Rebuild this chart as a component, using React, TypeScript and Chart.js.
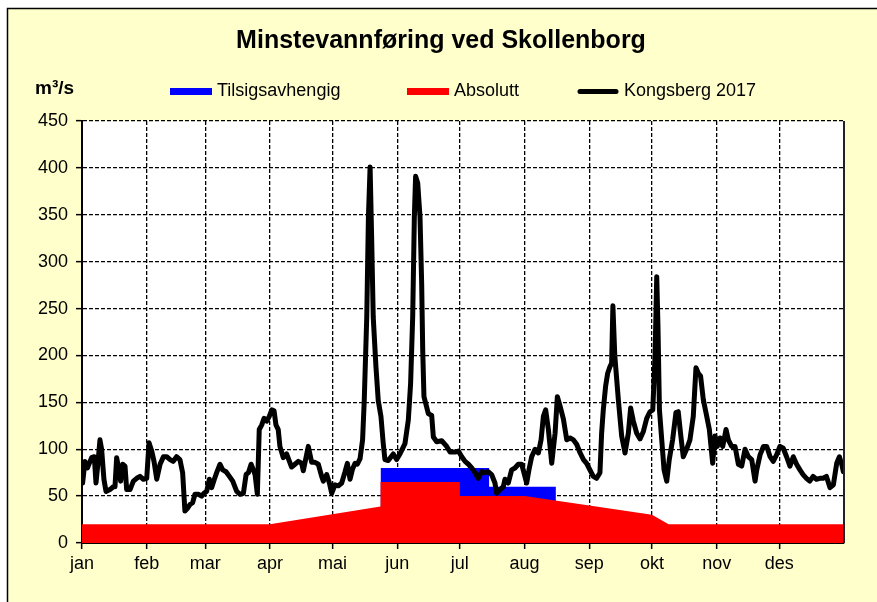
import React, { useEffect, useRef } from "react";
import { Chart, registerables } from "chart.js";

Chart.register(...registerables);

// ---- Data ----
const monthLabels = ["jan", "feb", "mar", "apr", "mai", "jun", "jul", "aug", "sep", "okt", "nov", "des"];
const monthStartDays = [0, 31, 59, 90, 120, 151, 181, 212, 243, 273, 304, 334];
const yearDays = 365;
const yMax = 450;
const yStep = 50;

const chartTitle = "Minstevannføring ved Skollenborg";
const unitLabel = "m³/s";

// Tilsigsavhengig (blue)
const tilsigDays = [143, 195, 195, 227];
const tilsigFlow = [80, 80, 60, 60];

// Absolutt (red)
const absoluttDays = [0, 90, 143, 143, 181, 181, 212, 243, 273, 281, 365];
const absoluttFlow = [20, 20, 39, 65, 65, 50, 50, 40, 30, 20, 20];

// Kongsberg 2017 (black), day of year / m3/s
const kongsbergDays = [
  0.3, 1.4, 2.6, 4.6, 5.9, 6.7, 7.5, 8.6, 9.4, 10.5, 11.5, 13.4, 15, 15.8, 16.6, 17.7, 18.5, 19.5, 20.6, 21.4,
  23, 24.6, 26.2, 27.8, 29.4, 31, 32.1, 33.4, 34.5, 35.8, 37.4, 39, 40.6, 42.2, 43.7, 45.3, 46.9, 48.2, 49.3, 50.5,
  51.7, 53, 54.1, 55.7, 57.3, 58.4, 59.7, 61, 62.1, 63.4, 64.5, 66.1, 67.4, 69, 70.6, 72.2, 74.1, 75.7, 77.3, 78.6,
  79.7, 81, 82.1, 82.9, 84, 84.9, 86.1, 87.2, 88.5, 89.7, 90.9, 92, 92.9, 94, 94.8, 96.4, 98, 100.4, 102, 103.6,
  105.2, 106, 108.4, 110, 111.6, 113.2, 114.8, 115.6, 117.2, 118.5, 119.6, 121.2, 122.8, 124.4, 126, 127.1, 128.4, 129.6, 130.8, 131.9,
  133.2, 134.4, 135.2, 136.4, 137.2, 138, 138.7, 139.5, 140.8, 141.9, 143.2, 144.3, 145.1, 146.7, 149.1, 150.7, 152.3, 154.7, 156.3, 157.4,
  158.4, 159.2, 159.8, 160.8, 161.9, 162.7, 163.2, 163.8, 165.9, 167.5, 168.3, 169.9, 172.3, 174.7, 176.3, 178.7, 180.3, 181.9, 183.5, 185.1,
  186.7, 188.2, 189.8, 191.4, 193, 194.6, 196.2, 197.8, 198.6, 200.2, 201.8, 202.6, 204.2, 205.8, 207.4, 209, 210.6, 213, 214.1, 215.4,
  217, 218.6, 219.9, 221, 222.1, 223.4, 225, 226.6, 227.7, 229, 230.6, 232.2, 233.8, 235.4, 237, 238.6, 240.2, 241.7, 243.3, 244.9,
  246.5, 248.1, 248.9, 249.7, 250.8, 251.8, 252.9, 253.7, 254.3, 255.2, 256.9, 258.5, 260.1, 261.7, 262.8, 264.1, 265.7, 267.3, 268.9, 270.5,
  272.1, 273.4, 274.5, 275.3, 275.9, 276.6, 277.7, 278.8, 280.1, 281.3, 282.9, 284.5, 285.6, 286.7, 288, 289.6, 291.2, 292.8, 294.1, 295.2,
  296.3, 297.6, 298.9, 300.5, 302.1, 303.2, 304.3, 305.6, 306.9, 308.5, 309.6, 311.2, 312.8, 314.4, 316, 317.6, 319.2, 320.8, 322.4, 323.2,
  324.8, 326.4, 328, 329.6, 331.1, 332.7, 334.3, 335.9, 337.5, 339.1, 340.7, 342.3, 343.9, 345.4, 347, 348.6, 350.2, 351.8, 353.4, 355,
  356.6, 358.3, 359.9, 361.5, 362.8, 363.9, 364.7,
];
const kongsbergFlow = [
  64, 87, 80, 91, 92, 64, 82, 110, 100, 68, 55, 57, 60, 60, 91, 78, 66, 84, 82, 57,
  57, 66, 69, 71, 68, 69, 107, 98, 87, 68, 84, 92, 92, 89, 87, 92, 89, 75, 34, 37,
  41, 43, 52, 52, 50, 53, 55, 68, 59, 68, 75, 84, 78, 76, 71, 66, 55, 52, 53, 73,
  75, 84, 78, 73, 52, 121, 126, 133, 130, 135, 142, 141, 126, 121, 103, 91, 95, 81, 84, 87,
  85, 77, 103, 86, 86, 84, 71, 66, 73, 64, 53, 62, 61, 64, 76, 85, 68, 79, 85, 84,
  90, 110, 152, 241, 348, 401, 330, 241, 188, 152, 135, 106, 89, 88, 95, 89, 95, 106, 131, 170,
  241, 348, 391, 384, 348, 277, 206, 156, 138, 136, 113, 108, 109, 103, 97, 97, 98, 92, 87, 84,
  80, 75, 69, 76, 75, 76, 73, 64, 53, 57, 60, 68, 64, 78, 80, 84, 84, 64, 78, 92,
  100, 96, 110, 135, 142, 121, 85, 117, 156, 146, 132, 110, 112, 110, 105, 96, 89, 85, 78, 71,
  69, 75, 117, 142, 167, 181, 188, 192, 253, 200, 153, 114, 96, 117, 144, 130, 117, 111, 119, 133,
  140, 142, 200, 284, 230, 142, 110, 78, 66, 89, 110, 139, 140, 117, 92, 100, 110, 135, 187, 181,
  178, 153, 139, 121, 85, 114, 103, 112, 103, 121, 110, 103, 103, 84, 82, 100, 92, 89, 66, 78,
  94, 103, 103, 92, 87, 94, 103, 101, 92, 82, 92, 84, 78, 73, 69, 66, 71, 68, 69, 69,
  71, 59, 62, 85, 92, 84, 76,
];

const seriesLabels = ["Tilsigsavhengig", "Absolutt", "Kongsberg 2017"];
const seriesColors = ["#0000FF", "#FF0000", "#000000"];

const toPoints = (xs: number[], ys: number[]) => xs.map((x, i) => ({ x, y: ys[i] }));

const FONT = "'Liberation Sans', Arial, Helvetica, sans-serif";

const decorPlugin = {
  id: "decor",
  beforeDraw(chart: any) {
    const { ctx, width, height, chartArea: a } = chart;
    ctx.save();
    ctx.fillStyle = "#ffffff";
    ctx.fillRect(0, 0, width, height);
    ctx.fillStyle = "#FFFFCC";
    ctx.fillRect(7, 8, width - 7, height - 8);
    ctx.strokeStyle = "#000";
    ctx.lineWidth = 1.5;
    ctx.beginPath();
    ctx.moveTo(width, 8.5);
    ctx.lineTo(7.5, 8.5);
    ctx.lineTo(7.5, height);
    ctx.stroke();
    ctx.fillStyle = "#ffffff";
    ctx.fillRect(a.left, a.top, a.right - a.left, a.bottom - a.top);
    ctx.restore();
  },
  afterDraw(chart: any) {
    const { ctx, chartArea: a } = chart;
    ctx.save();
    // right edge of plot area
    ctx.strokeStyle = "#222";
    ctx.lineWidth = 2;
    ctx.beginPath();
    ctx.moveTo(a.right, a.top);
    ctx.lineTo(a.right, a.bottom);
    ctx.stroke();

    // title
    ctx.fillStyle = "#000";
    ctx.textAlign = "center";
    ctx.textBaseline = "alphabetic";
    ctx.font = `bold 25px ${FONT}`;
    ctx.fillText(chartTitle, 441, 48);

    // unit
    ctx.textAlign = "left";
    ctx.font = `bold 19px ${FONT}`;
    ctx.fillText(unitLabel, 35, 94);

    // legend
    const boxX = [170, 407, 577];
    ctx.font = `18px ${FONT}`;
    ctx.textBaseline = "middle";
    chart.data.datasets.forEach((ds: any, i: number) => {
      const bx = boxX[i];
      if (i === 2) {
        ctx.strokeStyle = seriesColors[i];
        ctx.lineWidth = 5;
        ctx.lineCap = "round";
        ctx.beginPath();
        ctx.moveTo(bx + 3, 91.5);
        ctx.lineTo(bx + 39, 91.5);
        ctx.stroke();
      } else {
        ctx.fillStyle = seriesColors[i];
        ctx.fillRect(bx, 88, 42, 7);
      }
      ctx.fillStyle = "#000";
      ctx.fillText(ds.label, bx + 47, 91);
    });
    ctx.restore();
  },
};

export default function App() {
  const canvasRef = useRef<HTMLCanvasElement | null>(null);

  useEffect(() => {
    if (!canvasRef.current) return;
    const chart = new Chart(canvasRef.current, {
      type: "line",
      data: {
        datasets: [
          {
            label: seriesLabels[0],
            data: toPoints(tilsigDays, tilsigFlow),
            borderWidth: 0,
            borderColor: seriesColors[0],
            backgroundColor: seriesColors[0],
            fill: "origin",
            pointRadius: 0,
            tension: 0,
            order: 2,
          },
          {
            label: seriesLabels[1],
            data: toPoints(absoluttDays, absoluttFlow),
            borderWidth: 0,
            borderColor: seriesColors[1],
            backgroundColor: seriesColors[1],
            fill: "origin",
            pointRadius: 0,
            tension: 0,
            order: 1,
          },
          {
            label: seriesLabels[2],
            data: toPoints(kongsbergDays, kongsbergFlow),
            borderWidth: 5,
            borderColor: seriesColors[2],
            backgroundColor: seriesColors[2],
            fill: false,
            pointRadius: 0,
            tension: 0,
            borderJoinStyle: "round",
            borderCapStyle: "round",
            order: 0,
          },
        ],
      },
      options: {
        animation: false,
        responsive: false,
        devicePixelRatio: 1,
        layout: { padding: { left: 0, top: 121, right: 33, bottom: 0 } },
        plugins: {
          legend: { display: false },
          title: { display: false },
          tooltip: { enabled: false },
        },
        scales: {
          x: {
            type: "linear",
            min: 0,
            max: yearDays,
            afterBuildTicks: (scale: any) => {
              scale.ticks = monthStartDays.map((v) => ({ value: v }));
            },
            afterFit: (scale: any) => {
              scale.height = 59;
            },
            ticks: {
              autoSkip: false,
              maxRotation: 0,
              minRotation: 0,
              padding: 4,
              color: "#000",
              font: { family: FONT, size: 18 },
              callback: (_v: any, i: number) => monthLabels[i],
            },
            grid: {
              color: "#000",
              lineWidth: 1.3,
              tickLength: 6,
              tickColor: "#000",
              tickWidth: 1.5,
              tickBorderDash: [],
            },
            border: { display: true, color: "#000", width: 2, dash: [4, 2] },
          },
          y: {
            type: "linear",
            min: 0,
            max: yMax,
            afterFit: (scale: any) => {
              scale.width = 82;
            },
            ticks: {
              stepSize: yStep,
              padding: 8,
              color: "#000",
              font: { family: FONT, size: 18 },
            },
            grid: {
              color: "#000",
              lineWidth: 1.3,
              tickLength: 6,
              tickColor: "#000",
              tickWidth: 1.5,
              tickBorderDash: [],
            },
            border: { display: true, color: "#000", width: 2, dash: [4, 2] },
          },
        },
      } as any,
      plugins: [decorPlugin],
    });
    return () => chart.destroy();
  }, []);

  return (
    <div style={{ position: "fixed", left: 0, top: 0, width: 877, height: 602 }}>
      <canvas ref={canvasRef} width={877} height={602} style={{ display: "block" }} />
    </div>
  );
}
